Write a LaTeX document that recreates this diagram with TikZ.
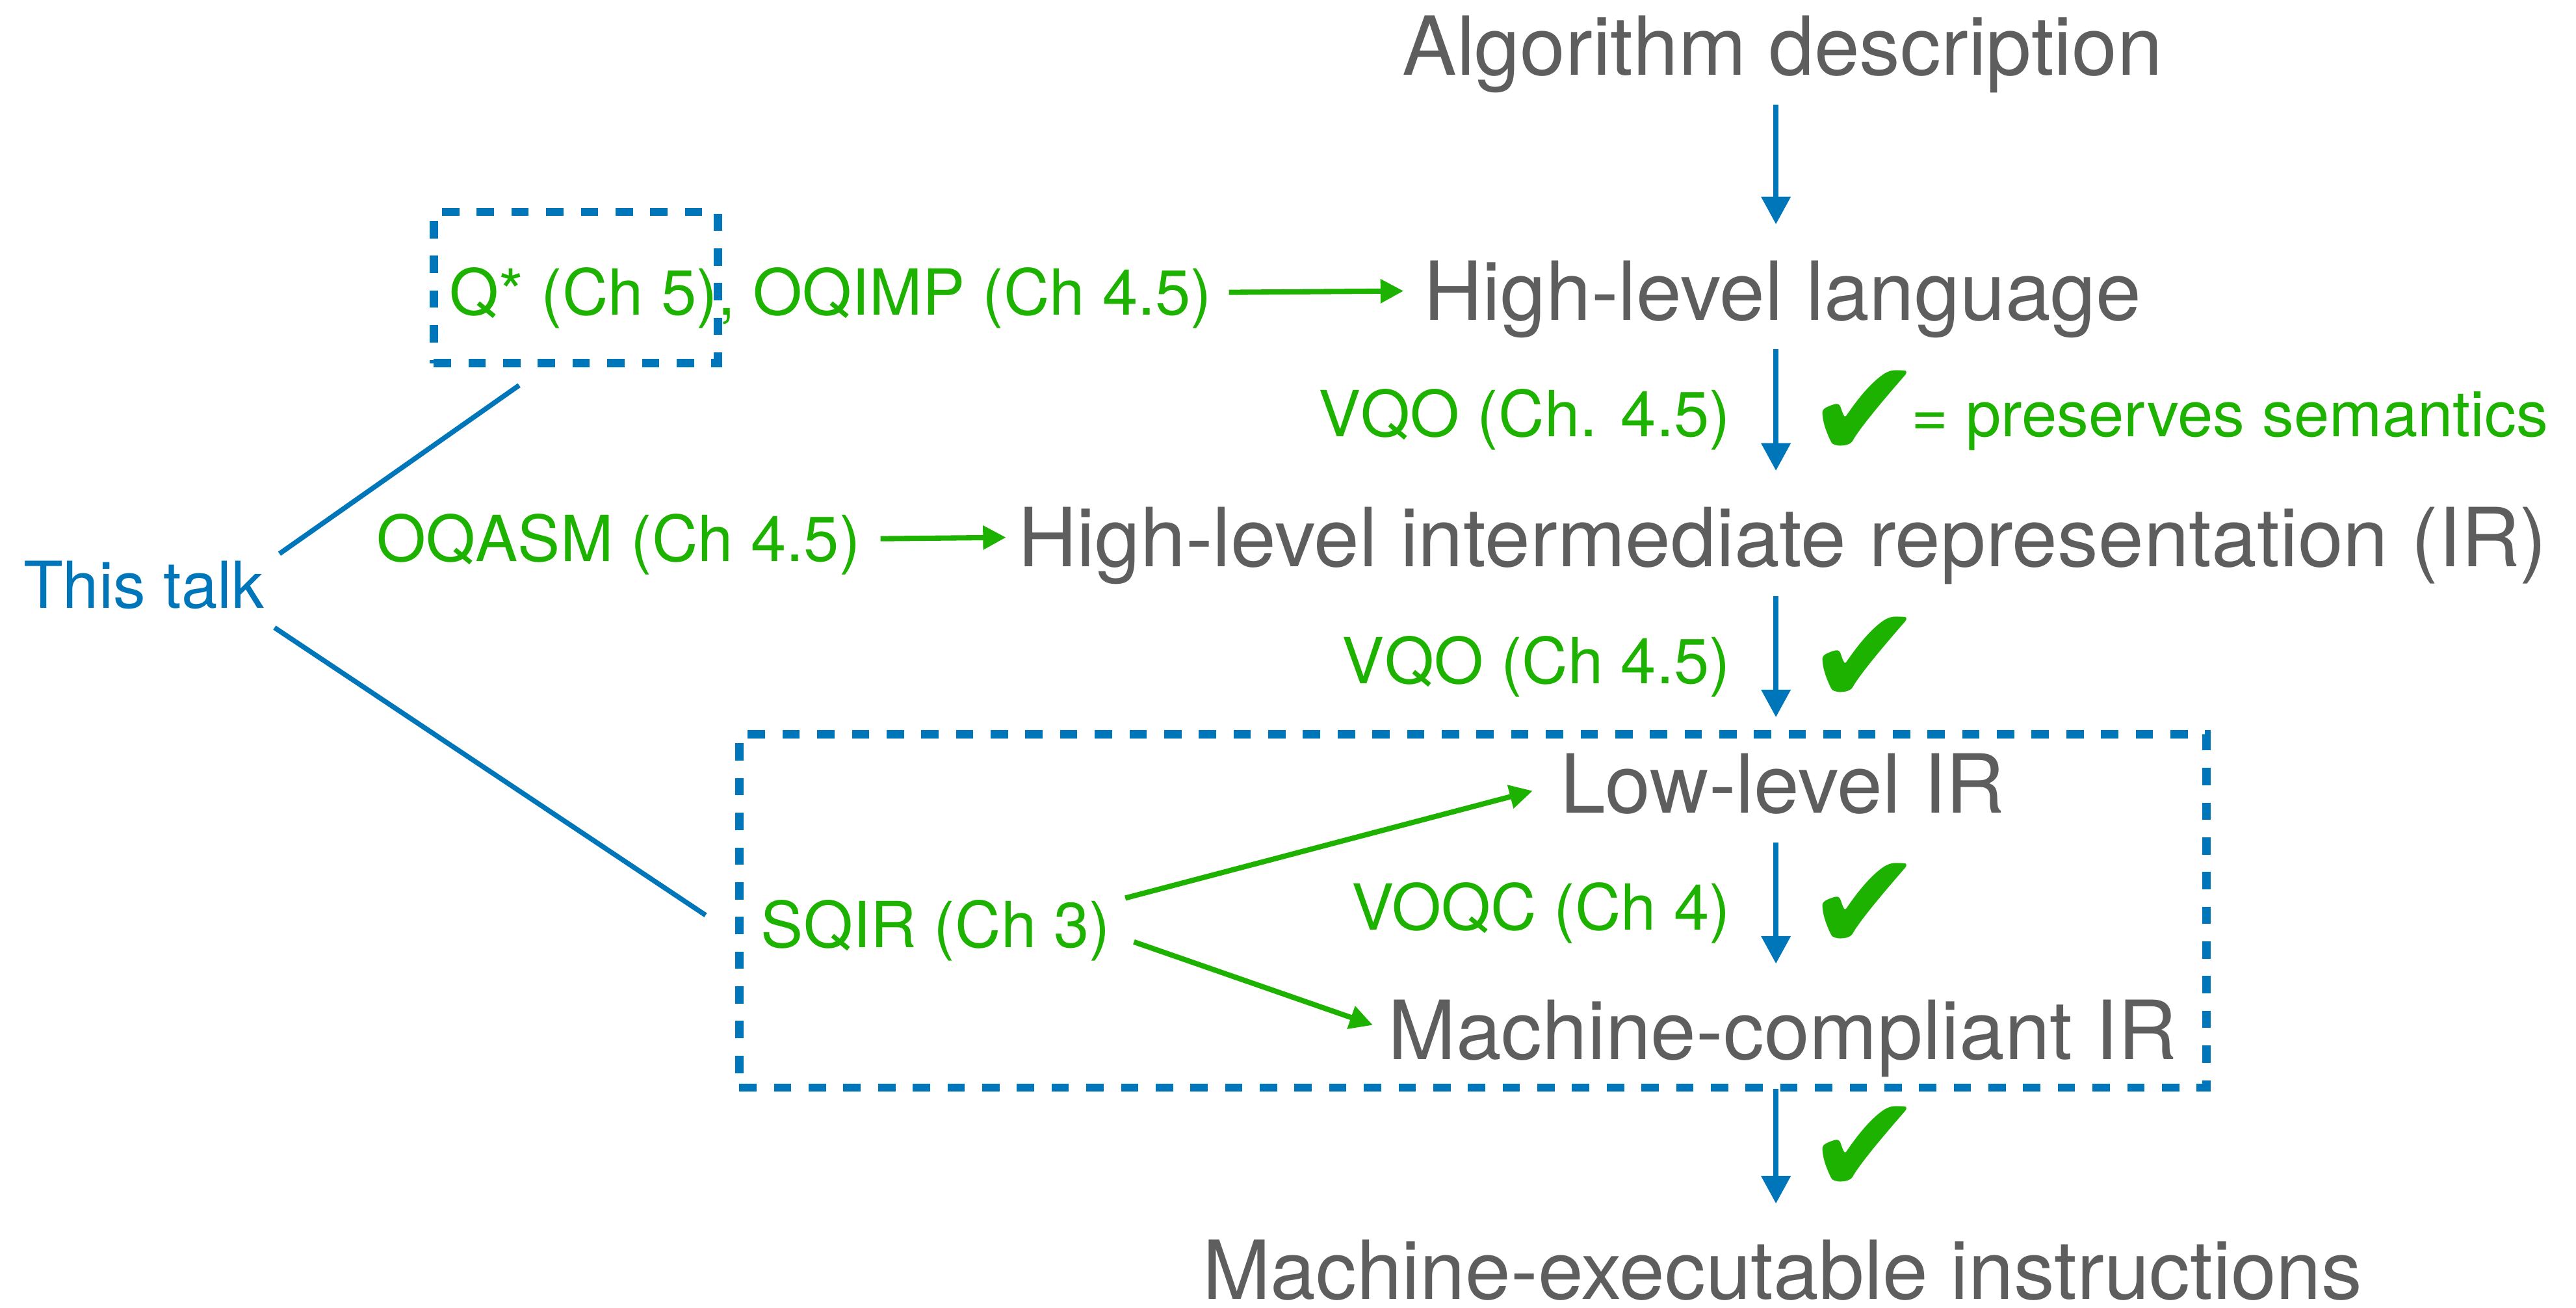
\documentclass[tikz,border=0pt]{standalone}
\usepackage{fontspec}
\setmainfont{TeX Gyre Heros}
\newfontfamily\tickfont{DejaVu Sans}
\usetikzlibrary{arrows.meta,positioning,calc}
\definecolor{stagegrey}{HTML}{5E5E5E}
\definecolor{proofgreen}{HTML}{1DB100}
\definecolor{talkblue}{HTML}{0076BA}

\begin{document}
\begin{tikzpicture}[x=0.25mm,y=-0.25mm,
stage/.style={inner sep=0pt,text height=25.3pt,text depth=0pt,
  text=stagegrey,font=\fontsize{35.3}{40}\selectfont},
lang/.style={inner sep=0pt,text height=19.7pt,text depth=0pt,
  text=proofgreen,font=\fontsize{27.5}{32}\selectfont},
tick/.style={inner sep=0pt,text=proofgreen,font=\tickfont\fontsize{60}{64}\selectfont},
down/.style={draw=talkblue,line width=0.85mm,
  -{Triangle[length=4.2mm,width=4.3mm]},shorten <=4.4mm,shorten >=5.6mm},
feed/.style={draw=proofgreen,line width=0.8mm,-{Triangle[length=3.5mm,width=3.5mm]}},
talk/.style={draw=talkblue,line width=0.75mm},
dashbox/.style={draw=talkblue,line width=1.25mm,dash pattern=on 2.64mm off 2.64mm,inner sep=0pt}]
\useasboundingbox (0,0) rectangle (1568,796);

\node[stage] (alg) at (1085,28) {Algorithm description};
\node[stage] (hll) at (1085,177) {High-level language};
\node[stage] (hir) at (1085,327) {High-level intermediate representation (IR)};
\node[stage] (lir) at (1085,477) {Low-level IR};
\node[stage] (mcir) at (1085,627) {Machine-compliant IR};
\node[stage] (mexec) at (1085,773) {Machine-executable instructions};

\node[lang,anchor=east] (qstar) at (738,178) {Q* (Ch 5), OQIMP (Ch 4.5)};
\node[lang,anchor=east] (oqasm) at (524,328) {OQASM (Ch 4.5)};
\node[lang,anchor=west] (sqir) at (463,563) {SQIR (Ch 3)};
\node[anchor=west,inner sep=0pt,text height=20.2pt,text depth=0pt,
  text=talkblue,font=\fontsize{28}{32}\selectfont] (talk) at (14,356) {This talk};

\node[dashbox,minimum width=43.25mm,minimum height=23mm] (box1) at (350.5,175) {};
\node[dashbox,minimum width=223.25mm,minimum height=53.75mm] (box2) at (896.5,554.5) {};

\draw[down] ([xshift=-1mm]alg.south) -- ([xshift=-1mm]hll.north);
\draw[down] ([xshift=-1mm]hll.south) -- ([xshift=-1mm]hir.north)
  node[midway,left=6.5mm,lang] (vqo1) {VQO (Ch. 4.5)}
  node[midway,right=4.25mm,tick] (ok1) {✔};
\node[lang,anchor=west] (sem) at ($(ok1.west)+(65,0)$) {= preserves semantics};
\draw[down] ([xshift=-1mm]hir.south) -- ([xshift=-1mm]lir.north)
  node[midway,left=6.5mm,lang] (vqo2) {VQO (Ch 4.5)}
  node[midway,right=4.25mm,tick] (ok2) {✔};
\draw[down] ([xshift=-1mm]lir.south) -- ([xshift=-1mm]mcir.north)
  node[midway,left=6.5mm,lang] (voqc) {VOQC (Ch 4)}
  node[midway,right=4.25mm,tick] (ok3) {✔};
\draw[down] ([xshift=-1mm]mcir.south) -- ([xshift=-1mm]mexec.north)
  node[midway,right=4.25mm,tick] (ok4) {✔};

\draw[feed,shorten <=2.5mm,shorten >=3mm] (qstar.east) -- (hll.west);
\draw[feed,shorten <=3mm,shorten >=1.75mm] (oqasm.east) -- (hir.west);
\draw[feed,shorten <=2.25mm,shorten >=4.25mm] (sqir.north east) -- (lir.west);
\draw[feed,shorten <=3.7mm,shorten >=2.4mm] ([yshift=-1.35mm]sqir.east) -- (mcir.west);

\draw[talk] ($(talk.east)+(9,-19)$) -- ($(box1.south)+(-34.5,11)$);
\draw[talk] ($(talk.east)+(6,26)$) -- ($(box2.west)+(-18,2.5)$);
\end{tikzpicture}
\end{document}
